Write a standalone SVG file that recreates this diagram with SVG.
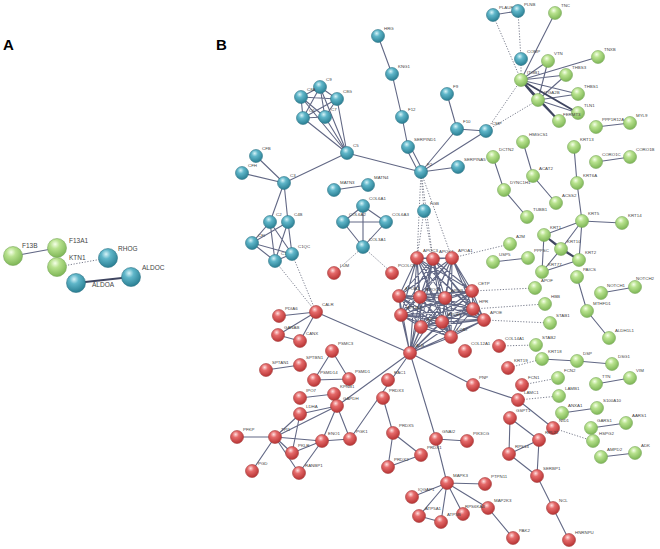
<svg xmlns="http://www.w3.org/2000/svg" width="660" height="549" viewBox="0 0 660 549">
<defs>
<radialGradient id="gb" cx="40%" cy="30%" r="70%"><stop offset="0" stop-color="#d6f3f8"/><stop offset="0.35" stop-color="#5fb6c9"/><stop offset="1" stop-color="#2a7f93"/></radialGradient>
<radialGradient id="gr" cx="40%" cy="30%" r="70%"><stop offset="0" stop-color="#ffe0e0"/><stop offset="0.35" stop-color="#e56a6a"/><stop offset="1" stop-color="#b83434"/></radialGradient>
<radialGradient id="gg" cx="40%" cy="30%" r="70%"><stop offset="0" stop-color="#f5ffe8"/><stop offset="0.35" stop-color="#b8e28e"/><stop offset="1" stop-color="#7eb656"/></radialGradient>
</defs>
<style>
.b{fill:url(#gb);stroke:#2d7486;stroke-width:0.6}
.r{fill:url(#gr);stroke:#a33a3a;stroke-width:0.6}
.g{fill:url(#gg);stroke:#78a85a;stroke-width:0.6}
.e{stroke:#626885;stroke-width:1.1;fill:none}
.k{stroke:#3f4560;stroke-width:2;fill:none}
.d{stroke:#6a6e80;stroke-width:0.9;stroke-dasharray:1.2 1.6;fill:none}
text{font-family:"Liberation Sans",Arial,sans-serif;fill:#444}
.t{font-size:4.4px}
.ta{font-size:6.5px}
.p{font-size:15px;font-weight:bold;fill:#000}
</style>
<rect width="660" height="549" fill="#fff"/>
<text class="p" x="3" y="50">A</text>
<text class="p" x="216" y="50">B</text>

<g id="connectors">
<line class="e" x1="13" y1="256" x2="57" y2="248"/>
<line class="d" x1="57" y1="267" x2="108" y2="258"/>
<line class="k" x1="76" y1="283" x2="131" y2="277"/>
<path class="e" d="M378,36L392,74L402,117L408,147M406,148L419,173M410,146L423,171M447,94L457,129L486,131M457,129L421,172M486,131L421,172M421,172L458,167M421,172L347,153M493,15L518,11"/>
<path class="e" d="M320,87L301,97M320,87L337,99M320,87L303,118M320,87L325,117M301,97L337,99M301,97L303,118M301,97L325,117M337,99L303,118M337,99L325,117M303,118L325,117M320,87L347,153M301,97L347,153M337,99L347,153M303,118L347,153M325,117L347,153"/>
<path class="e" d="M347,153L284,183M284,183L256,156M284,183L242,173M284,183L270,222M284,183L288,222M270,222L252,243M288,222L252,243M252,243L275,261M252,243L292,254M270,222L275,261M288,222L275,261M288,222L292,254M270,222L292,254M275,261L292,254"/>
<path class="e" d="M334,190L368,185M363,206L343,222M363,206L386,222M363,206L363,247M343,222L386,222M343,222L363,247M386,222L363,247"/>
<path class="e" d="M521,80L555,13M521,80L548,61M521,80L598,57M521,80L566,75M521,80L578,94M538,100L548,61M538,100L566,75M538,100L578,94M538,100L578,113M538,100L559,121"/>
<path class="k" d="M521,80L578,113M521,80L559,121M521,80L538,100"/>
<path class="e" d="M596,127L630,123M523,142L533,176L556,203M493,157L504,190L527,217M574,147L577,183L582,221M596,162L630,157M582,221L622,223M582,221L544,235M582,221L561,249M582,221L579,260M544,235L579,260M544,235L542,272M561,249L542,272M579,260L542,272M493,262L528,258M577,277L587,311L609,338M601,293L635,287M542,359L577,361L612,364M596,384L630,378M562,413L597,408M591,428L626,423M601,457L635,453"/>
<path class="k" d="M544,235L561,249L579,260"/>
<path class="e" stroke-width="0.8" d="M417,258L433,259M417,258L452,258M417,258L399,296M417,258L420,297M417,258L445,298M417,258L472,291M417,258L401,315M417,258L421,327M417,258L442,322M417,258L473,309M417,258L484,320M417,258L451,337M417,258L410,353M433,259L452,258M433,259L399,296M433,259L420,297M433,259L445,298M433,259L472,291M433,259L401,315M433,259L421,327M433,259L442,322M433,259L473,309M433,259L484,320M433,259L451,337M433,259L410,353M452,258L399,296M452,258L420,297M452,258L445,298M452,258L472,291M452,258L401,315M452,258L421,327M452,258L442,322M452,258L473,309M452,258L484,320M452,258L451,337M452,258L410,353M399,296L420,297M399,296L445,298M399,296L472,291M399,296L401,315M399,296L421,327M399,296L442,322M399,296L473,309M399,296L484,320M399,296L451,337M399,296L410,353M420,297L445,298M420,297L472,291M420,297L401,315M420,297L421,327M420,297L442,322M420,297L473,309M420,297L484,320M420,297L451,337M420,297L410,353M445,298L472,291M445,298L401,315M445,298L421,327M445,298L442,322M445,298L473,309M445,298L484,320M445,298L451,337M445,298L410,353M472,291L401,315M472,291L421,327M472,291L442,322M472,291L473,309M472,291L484,320M472,291L451,337M472,291L410,353M401,315L421,327M401,315L442,322M401,315L473,309M401,315L484,320M401,315L451,337M401,315L410,353M421,327L442,322M421,327L473,309M421,327L484,320M421,327L451,337M421,327L410,353M442,322L473,309M442,322L484,320M442,322L451,337M442,322L410,353M473,309L484,320M473,309L451,337M473,309L410,353M484,320L451,337M484,320L410,353M451,337L410,353"/>
<path class="e" d="M410,353L316,312M410,353L337,406M410,353L350,439M410,353L436,439M410,353L473,385L518,400L553,428M436,439L467,441M436,439L447,483M447,483L485,484M447,483L488,508M447,483L463,514M447,483L441,522M447,483L419,516M447,483L412,497M419,516L441,522M488,508L513,538M383,398L393,433M393,433L421,455M393,433L388,467M421,455L388,467M510,418L509,454M510,418L539,440M509,454L539,440M509,454L537,476M539,440L537,476L553,508L569,540"/>
<path class="e" d="M316,312L279,316M316,312L278,335M316,312L300,341M278,335L300,341M332,351L314,380M332,351L349,379M314,380L349,379M300,365L266,370M300,398L334,394L337,406M337,406L300,414M337,406L275,437M337,406L322,441M337,406L350,439M300,414L275,437M300,414L292,453M275,437L237,437M275,437L292,453M275,437L322,441M275,437L252,471M275,437L299,473M292,453L322,441M322,441L350,439M322,441L299,473"/>
<path class="d" d="M493,15L521,80M518,11L521,59M521,59L521,80M486,131L521,80M486,131L538,100M421,172L417,258M421,172L433,259M421,172L452,258M421,172L424,211M424,211L417,258M424,211L433,259M275,261L316,312M292,254L316,312M334,273L363,247M363,247L392,273M452,258L510,244M472,291L535,288M473,309L545,304M484,320L550,323M499,346L536,345M508,368L542,359M522,385L558,378M518,400L559,396M553,428L593,441"/>
</g>

<g id="A-F13B"><circle class="g" cx="13" cy="256" r="9.5"/><text class="ta" x="22" y="248">F13B</text></g>
<g id="A-F13A1"><circle class="g" cx="57" cy="248" r="9.5"/><text class="ta" x="69" y="243">F13A1</text></g>
<g id="A-KTN1"><circle class="g" cx="57" cy="267" r="9.5"/><text class="ta" x="69" y="260">KTN1</text></g>
<g id="A-RHOG"><circle class="b" cx="108" cy="258" r="9.5"/><text class="ta" x="118" y="251">RHOG</text></g>
<g id="A-ALDOA"><circle class="b" cx="76" cy="283" r="9.5"/><text class="ta" x="92" y="287">ALDOA</text></g>
<g id="A-ALDOC"><circle class="b" cx="131" cy="277" r="9.5"/><text class="ta" x="142" y="270">ALDOC</text></g>

<g id="HRG"><circle class="b" cx="378" cy="36" r="6.5"/><text class="t" x="384" y="30">HRG</text></g>
<g id="KNG1"><circle class="b" cx="392" cy="74" r="6.5"/><text class="t" x="398" y="68">KNG1</text></g>
<g id="F12"><circle class="b" cx="402" cy="117" r="6.5"/><text class="t" x="408" y="111">F12</text></g>
<g id="SERPIND1"><circle class="b" cx="408" cy="147" r="6.5"/><text class="t" x="414" y="141">SERPIND1</text></g>
<g id="F9"><circle class="b" cx="447" cy="94" r="6.5"/><text class="t" x="453" y="88">F9</text></g>
<g id="F10"><circle class="b" cx="457" cy="129" r="6.5"/><text class="t" x="463" y="123">F10</text></g>
<g id="CMP"><circle class="b" cx="486" cy="131" r="6.5"/><text class="t" x="492" y="125">CMP</text></g>
<g id="PLAUR"><circle class="b" cx="493" cy="15" r="6.5"/><text class="t" x="499" y="9">PLAUR</text></g>
<g id="PLNB"><circle class="b" cx="518" cy="11" r="6.5"/><text class="t" x="524" y="6">PLNB</text></g>
<g id="COMP"><circle class="b" cx="521" cy="59" r="6.5"/><text class="t" x="527" y="53">COMP</text></g>
<g id="F2"><circle class="b" cx="421" cy="172" r="6.5"/><text class="t" x="427" y="166">F2</text></g>
<g id="SERPINA5"><circle class="b" cx="458" cy="167" r="6.5"/><text class="t" x="464" y="161">SERPINA5</text></g>
<g id="FGB"><circle class="b" cx="424" cy="211" r="6.5"/><text class="t" x="430" y="205">FGB</text></g>
<g id="C9"><circle class="b" cx="320" cy="87" r="6.5"/><text class="t" x="326" y="81">C9</text></g>
<g id="C8A"><circle class="b" cx="301" cy="97" r="6.5"/><text class="t" x="307" y="91">C8A</text></g>
<g id="C8G"><circle class="b" cx="337" cy="99" r="6.5"/><text class="t" x="343" y="93">C8G</text></g>
<g id="C6"><circle class="b" cx="303" cy="118" r="6.5"/><text class="t" x="309" y="112">C6</text></g>
<g id="C7"><circle class="b" cx="325" cy="117" r="6.5"/><text class="t" x="331" y="111">C7</text></g>
<g id="C5"><circle class="b" cx="347" cy="153" r="6.5"/><text class="t" x="353" y="147">C5</text></g>
<g id="CFB"><circle class="b" cx="256" cy="156" r="6.5"/><text class="t" x="262" y="150">CFB</text></g>
<g id="CFH"><circle class="b" cx="242" cy="173" r="6.5"/><text class="t" x="248" y="167">CFH</text></g>
<g id="C3"><circle class="b" cx="284" cy="183" r="6.5"/><text class="t" x="290" y="177">C3</text></g>
<g id="C2"><circle class="b" cx="270" cy="222" r="6.5"/><text class="t" x="276" y="216">C2</text></g>
<g id="C4B"><circle class="b" cx="288" cy="222" r="6.5"/><text class="t" x="294" y="216">C4B</text></g>
<g id="CFI"><circle class="b" cx="252" cy="243" r="6.5"/><text class="t" x="258" y="237">CFI</text></g>
<g id="C1S"><circle class="b" cx="275" cy="261" r="6.5"/><text class="t" x="281" y="255">C1S</text></g>
<g id="C1QC"><circle class="b" cx="292" cy="254" r="6.5"/><text class="t" x="298" y="248">C1QC</text></g>
<g id="MATN3"><circle class="b" cx="334" cy="190" r="6.5"/><text class="t" x="340" y="184">MATN3</text></g>
<g id="MATN4"><circle class="b" cx="368" cy="185" r="6.5"/><text class="t" x="374" y="179">MATN4</text></g>
<g id="COL6A1"><circle class="b" cx="363" cy="206" r="6.5"/><text class="t" x="369" y="200">COL6A1</text></g>
<g id="COL6A2"><circle class="b" cx="343" cy="222" r="6.5"/><text class="t" x="349" y="216">COL6A2</text></g>
<g id="COL6A3"><circle class="b" cx="386" cy="222" r="6.5"/><text class="t" x="392" y="216">COL6A3</text></g>
<g id="COL3A1"><circle class="b" cx="363" cy="247" r="6.5"/><text class="t" x="369" y="241">COL3A1</text></g>

<g id="TNC"><circle class="g" cx="555" cy="13" r="6.5"/><text class="t" x="561" y="7">TNC</text></g>
<g id="VTN"><circle class="g" cx="548" cy="61" r="6.5"/><text class="t" x="554" y="55">VTN</text></g>
<g id="TNXB"><circle class="g" cx="598" cy="57" r="6.5"/><text class="t" x="604" y="51">TNXB</text></g>
<g id="ITGB1"><circle class="g" cx="521" cy="80" r="6.5"/><text class="t" x="527" y="74">ITGB1</text></g>
<g id="THBS3"><circle class="g" cx="566" cy="75" r="6.5"/><text class="t" x="572" y="69">THBS3</text></g>
<g id="ITGA2B"><circle class="g" cx="538" cy="100" r="6.5"/><text class="t" x="544" y="94">ITGA2B</text></g>
<g id="THBS1"><circle class="g" cx="578" cy="94" r="6.5"/><text class="t" x="584" y="88">THBS1</text></g>
<g id="TLN1"><circle class="g" cx="578" cy="113" r="6.5"/><text class="t" x="584" y="107">TLN1</text></g>
<g id="FERMT3"><circle class="g" cx="559" cy="121" r="6.5"/><text class="t" x="563" y="116">FERMT3</text></g>
<g id="PPP1R12A"><circle class="g" cx="596" cy="127" r="6.5"/><text class="t" x="602" y="121">PPP1R12A</text></g>
<g id="MYL9"><circle class="g" cx="630" cy="123" r="6.5"/><text class="t" x="636" y="117">MYL9</text></g>
<g id="HMGCS1"><circle class="g" cx="523" cy="142" r="6.5"/><text class="t" x="529" y="136">HMGCS1</text></g>
<g id="DCTN2"><circle class="g" cx="493" cy="157" r="6.5"/><text class="t" x="499" y="151">DCTN2</text></g>
<g id="ACAT2"><circle class="g" cx="533" cy="176" r="6.5"/><text class="t" x="539" y="170">ACAT2</text></g>
<g id="DYNC1H1"><circle class="g" cx="504" cy="190" r="6.5"/><text class="t" x="510" y="184">DYNC1H1</text></g>
<g id="ACSS2"><circle class="g" cx="556" cy="203" r="6.5"/><text class="t" x="562" y="197">ACSS2</text></g>
<g id="TUBB1"><circle class="g" cx="527" cy="217" r="6.5"/><text class="t" x="533" y="211">TUBB1</text></g>
<g id="KRT13"><circle class="g" cx="574" cy="147" r="6.5"/><text class="t" x="580" y="141">KRT13</text></g>
<g id="CORO1C"><circle class="g" cx="596" cy="162" r="6.5"/><text class="t" x="602" y="156">CORO1C</text></g>
<g id="CORO1B"><circle class="g" cx="630" cy="157" r="6.5"/><text class="t" x="636" y="151">CORO1B</text></g>
<g id="KRT6A"><circle class="g" cx="577" cy="183" r="6.5"/><text class="t" x="583" y="177">KRT6A</text></g>
<g id="KRT5"><circle class="g" cx="582" cy="221" r="6.5"/><text class="t" x="588" y="215">KRT5</text></g>
<g id="KRT14"><circle class="g" cx="622" cy="223" r="6.5"/><text class="t" x="628" y="217">KRT14</text></g>
<g id="KRT1"><circle class="g" cx="544" cy="235" r="6.5"/><text class="t" x="550" y="229">KRT1</text></g>
<g id="A2M"><circle class="g" cx="510" cy="244" r="6.5"/><text class="t" x="516" y="238">A2M</text></g>
<g id="KRT10"><circle class="g" cx="561" cy="249" r="6.5"/><text class="t" x="567" y="243">KRT10</text></g>
<g id="PPPSC"><circle class="g" cx="528" cy="258" r="6.5"/><text class="t" x="534" y="252">PPPSC</text></g>
<g id="KRT2"><circle class="g" cx="579" cy="260" r="6.5"/><text class="t" x="585" y="254">KRT2</text></g>
<g id="USP5"><circle class="g" cx="493" cy="262" r="6.5"/><text class="t" x="499" y="256">USP5</text></g>
<g id="KRT77"><circle class="g" cx="542" cy="272" r="6.5"/><text class="t" x="548" y="266">KRT77</text></g>
<g id="PAICS"><circle class="g" cx="577" cy="277" r="6.5"/><text class="t" x="583" y="271">PAICS</text></g>
<g id="APOF"><circle class="g" cx="535" cy="288" r="6.5"/><text class="t" x="541" y="282">APOF</text></g>
<g id="NOTCH1"><circle class="g" cx="601" cy="293" r="6.5"/><text class="t" x="607" y="287">NOTCH1</text></g>
<g id="NOTCH2"><circle class="g" cx="635" cy="287" r="6.5"/><text class="t" x="636" y="280">NOTCH2</text></g>
<g id="HBB"><circle class="g" cx="545" cy="304" r="6.5"/><text class="t" x="551" y="298">HBB</text></g>
<g id="MTHFD1"><circle class="g" cx="587" cy="311" r="6.5"/><text class="t" x="593" y="305">MTHFD1</text></g>
<g id="STAB1"><circle class="g" cx="550" cy="323" r="6.5"/><text class="t" x="556" y="317">STAB1</text></g>
<g id="ALDH1L1"><circle class="g" cx="609" cy="338" r="6.5"/><text class="t" x="615" y="332">ALDH1L1</text></g>
<g id="STAB2"><circle class="g" cx="536" cy="345" r="6.5"/><text class="t" x="542" y="339">STAB2</text></g>
<g id="KRT18"><circle class="g" cx="542" cy="359" r="6.5"/><text class="t" x="548" y="353">KRT18</text></g>
<g id="DSP"><circle class="g" cx="577" cy="361" r="6.5"/><text class="t" x="583" y="355">DSP</text></g>
<g id="DSG1"><circle class="g" cx="612" cy="364" r="6.5"/><text class="t" x="618" y="358">DSG1</text></g>
<g id="FCN2"><circle class="g" cx="558" cy="378" r="6.5"/><text class="t" x="564" y="372">FCN2</text></g>
<g id="TTN"><circle class="g" cx="596" cy="384" r="6.5"/><text class="t" x="602" y="378">TTN</text></g>
<g id="VIM"><circle class="g" cx="630" cy="378" r="6.5"/><text class="t" x="636" y="372">VIM</text></g>
<g id="LAMB1"><circle class="g" cx="559" cy="396" r="6.5"/><text class="t" x="565" y="390">LAMB1</text></g>
<g id="ANXA1"><circle class="g" cx="562" cy="413" r="6.5"/><text class="t" x="568" y="407">ANXA1</text></g>
<g id="S100A10"><circle class="g" cx="597" cy="408" r="6.5"/><text class="t" x="603" y="402">S100A10</text></g>
<g id="GARS1"><circle class="g" cx="591" cy="428" r="6.5"/><text class="t" x="597" y="422">GARS1</text></g>
<g id="AARS1"><circle class="g" cx="626" cy="423" r="6.5"/><text class="t" x="632" y="417">AARS1</text></g>
<g id="HSPG2"><circle class="g" cx="593" cy="441" r="6.5"/><text class="t" x="599" y="435">HSPG2</text></g>
<g id="AMPD2"><circle class="g" cx="601" cy="457" r="6.5"/><text class="t" x="607" y="451">AMPD2</text></g>
<g id="ADK"><circle class="g" cx="635" cy="453" r="6.5"/><text class="t" x="641" y="447">ADK</text></g>

<g id="LUM"><circle class="r" cx="334" cy="273" r="6.5"/><text class="t" x="340" y="267">LUM</text></g>
<g id="APOC3"><circle class="r" cx="417" cy="258" r="6.5"/><text class="t" x="423" y="252">APOC3</text></g>
<g id="APOC1"><circle class="r" cx="433" cy="259" r="6.5"/><text class="t" x="439" y="253">APOC1</text></g>
<g id="APOA1"><circle class="r" cx="452" cy="258" r="6.5"/><text class="t" x="458" y="252">APOA1</text></g>
<g id="PCOLCE"><circle class="r" cx="392" cy="273" r="6.5"/><text class="t" x="398" y="267">PCOLCE</text></g>
<g id="APOA2"><circle class="r" cx="399" cy="296" r="6.5"/><text class="t" x="405" y="290">APOA2</text></g>
<g id="APOC2"><circle class="r" cx="420" cy="297" r="6.5"/><text class="t" x="426" y="291">APOC2</text></g>
<g id="APOB"><circle class="r" cx="445" cy="298" r="6.5"/><text class="t" x="451" y="292">APOB</text></g>
<g id="CETP"><circle class="r" cx="472" cy="291" r="6.5"/><text class="t" x="478" y="285">CETP</text></g>
<g id="APOA4"><circle class="r" cx="401" cy="315" r="6.5"/><text class="t" x="407" y="309">APOA4</text></g>
<g id="APOM"><circle class="r" cx="421" cy="327" r="6.5"/><text class="t" x="427" y="321">APOM</text></g>
<g id="APOH"><circle class="r" cx="442" cy="322" r="6.5"/><text class="t" x="448" y="316">APOH</text></g>
<g id="HPR"><circle class="r" cx="473" cy="309" r="6.5"/><text class="t" x="479" y="303">HPR</text></g>
<g id="APOE"><circle class="r" cx="484" cy="320" r="6.5"/><text class="t" x="490" y="314">APOE</text></g>
<g id="LCAT"><circle class="r" cx="451" cy="337" r="6.5"/><text class="t" x="457" y="331">LCAT</text></g>
<g id="ALB"><circle class="r" cx="410" cy="353" r="6.5"/><text class="t" x="416" y="347">ALB</text></g>
<g id="COL12A1"><circle class="r" cx="465" cy="351" r="6.5"/><text class="t" x="471" y="345">COL12A1</text></g>
<g id="COL14A1"><circle class="r" cx="499" cy="346" r="6.5"/><text class="t" x="505" y="340">COL14A1</text></g>
<g id="KRT19"><circle class="r" cx="508" cy="368" r="6.5"/><text class="t" x="514" y="362">KRT19</text></g>
<g id="FCN1"><circle class="r" cx="522" cy="385" r="6.5"/><text class="t" x="528" y="379">FCN1</text></g>
<g id="LAMC1"><circle class="r" cx="518" cy="400" r="6.5"/><text class="t" x="524" y="394">LAMC1</text></g>
<g id="PNP"><circle class="r" cx="473" cy="385" r="6.5"/><text class="t" x="479" y="379">PNP</text></g>
<g id="GSPT1"><circle class="r" cx="510" cy="418" r="6.5"/><text class="t" x="516" y="412">GSPT1</text></g>
<g id="NID1"><circle class="r" cx="553" cy="428" r="6.5"/><text class="t" x="559" y="422">NID1</text></g>
<g id="RPL22"><circle class="r" cx="539" cy="440" r="6.5"/><text class="t" x="545" y="434">RPL22</text></g>
<g id="RPS14"><circle class="r" cx="509" cy="454" r="6.5"/><text class="t" x="515" y="448">RPS14</text></g>
<g id="SERBP1"><circle class="r" cx="537" cy="476" r="6.5"/><text class="t" x="543" y="470">SERBP1</text></g>
<g id="NCL"><circle class="r" cx="553" cy="508" r="6.5"/><text class="t" x="559" y="502">NCL</text></g>
<g id="HNRNPU"><circle class="r" cx="569" cy="540" r="6.5"/><text class="t" x="575" y="534">HNRNPU</text></g>
<g id="PAK2"><circle class="r" cx="513" cy="538" r="6.5"/><text class="t" x="519" y="532">PAK2</text></g>
<g id="MAP2K3"><circle class="r" cx="488" cy="508" r="6.5"/><text class="t" x="494" y="502">MAP2K3</text></g>
<g id="RPS6KA3"><circle class="r" cx="463" cy="514" r="6.5"/><text class="t" x="465" y="508">RPS6KA3</text></g>
<g id="MAPK3"><circle class="r" cx="447" cy="483" r="6.5"/><text class="t" x="453" y="477">MAPK3</text></g>
<g id="PTPN11"><circle class="r" cx="485" cy="484" r="6.5"/><text class="t" x="491" y="478">PTPN11</text></g>
<g id="ATP5B"><circle class="r" cx="441" cy="522" r="6.5"/><text class="t" x="447" y="516">ATP5B</text></g>
<g id="ATP5A1"><circle class="r" cx="419" cy="516" r="6.5"/><text class="t" x="425" y="510">ATP5A1</text></g>
<g id="IQGAP1"><circle class="r" cx="412" cy="497" r="6.5"/><text class="t" x="418" y="491">IQGAP1</text></g>
<g id="GNAI2"><circle class="r" cx="436" cy="439" r="6.5"/><text class="t" x="442" y="433">GNAI2</text></g>
<g id="PIK3CG"><circle class="r" cx="467" cy="441" r="6.5"/><text class="t" x="473" y="435">PIK3CG</text></g>
<g id="PRDX5"><circle class="r" cx="393" cy="433" r="6.5"/><text class="t" x="399" y="427">PRDX5</text></g>
<g id="PRDX1"><circle class="r" cx="421" cy="455" r="6.5"/><text class="t" x="427" y="449">PRDX1</text></g>
<g id="PRDX2"><circle class="r" cx="388" cy="467" r="6.5"/><text class="t" x="394" y="461">PRDX2</text></g>
<g id="PRDX3"><circle class="r" cx="383" cy="398" r="6.5"/><text class="t" x="389" y="392">PRDX3</text></g>
<g id="RAC1"><circle class="r" cx="388" cy="380" r="6.5"/><text class="t" x="394" y="374">RAC1</text></g>
<g id="CALR"><circle class="r" cx="316" cy="312" r="6.5"/><text class="t" x="322" y="306">CALR</text></g>
<g id="PDIA6"><circle class="r" cx="279" cy="316" r="6.5"/><text class="t" x="285" y="310">PDIA6</text></g>
<g id="GANAB"><circle class="r" cx="278" cy="335" r="6.5"/><text class="t" x="284" y="329">GANAB</text></g>
<g id="CANX"><circle class="r" cx="300" cy="341" r="6.5"/><text class="t" x="306" y="335">CANX</text></g>
<g id="PSMC3"><circle class="r" cx="332" cy="351" r="6.5"/><text class="t" x="338" y="345">PSMC3</text></g>
<g id="SPTBN1"><circle class="r" cx="300" cy="365" r="6.5"/><text class="t" x="306" y="359">SPTBN1</text></g>
<g id="SPTAN1"><circle class="r" cx="266" cy="370" r="6.5"/><text class="t" x="272" y="364">SPTAN1</text></g>
<g id="PSMD14"><circle class="r" cx="314" cy="380" r="6.5"/><text class="t" x="320" y="374">PSMD14</text></g>
<g id="PSMD1"><circle class="r" cx="349" cy="379" r="6.5"/><text class="t" x="355" y="373">PSMD1</text></g>
<g id="IPO7"><circle class="r" cx="300" cy="398" r="6.5"/><text class="t" x="306" y="392">IPO7</text></g>
<g id="KPNB1"><circle class="r" cx="334" cy="394" r="6.5"/><text class="t" x="340" y="388">KPNB1</text></g>
<g id="GAPDH"><circle class="r" cx="337" cy="406" r="6.5"/><text class="t" x="343" y="400">GAPDH</text></g>
<g id="LDHA"><circle class="r" cx="300" cy="414" r="6.5"/><text class="t" x="306" y="408">LDHA</text></g>
<g id="TPI1"><circle class="r" cx="275" cy="437" r="6.5"/><text class="t" x="281" y="431">TPI1</text></g>
<g id="PFKP"><circle class="r" cx="237" cy="437" r="6.5"/><text class="t" x="243" y="431">PFKP</text></g>
<g id="PKLR"><circle class="r" cx="292" cy="453" r="6.5"/><text class="t" x="298" y="447">PKLR</text></g>
<g id="ENO1"><circle class="r" cx="322" cy="441" r="6.5"/><text class="t" x="328" y="435">ENO1</text></g>
<g id="PGK1"><circle class="r" cx="350" cy="439" r="6.5"/><text class="t" x="356" y="433">PGK1</text></g>
<g id="PGD"><circle class="r" cx="252" cy="471" r="6.5"/><text class="t" x="258" y="465">PGD</text></g>
<g id="RANBP1"><circle class="r" cx="299" cy="473" r="6.5"/><text class="t" x="305" y="467">RANBP1</text></g>
</svg>
